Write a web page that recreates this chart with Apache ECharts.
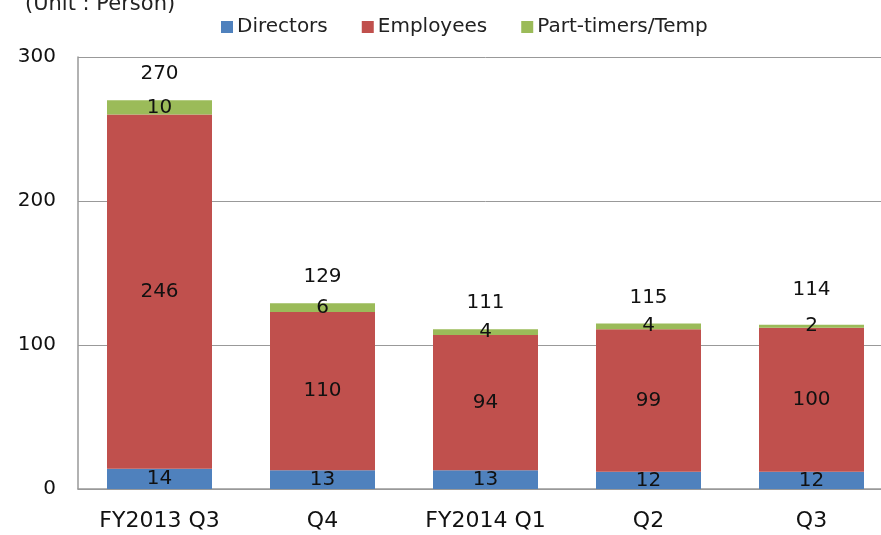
<!DOCTYPE html>
<html>
<head>
<meta charset="utf-8">
<script src="https://cdn.jsdelivr.net/npm/echarts@6/dist/echarts.min.js"></script>
<style>
  html, body { margin: 0; padding: 0; background: #fff; overflow: hidden; }
  #chart { width: 893px; height: 535px; }
</style>
</head>
<body>
<div id="chart"></div>
<script>
var categories = ['FY2013 Q3', 'Q4', 'FY2014 Q1', 'Q2', 'Q3']
var directors = [14, 13, 13, 12, 12]
var employees = [246, 110, 94, 99, 100]
var partTimers = [10, 6, 4, 4, 2]
var totals = [270, 129, 111, 115, 114]
var yTicks = [0, 100, 200, 300]

var font = 'DejaVu Sans'
var chart = echarts.init(document.getElementById('chart'))

var segLabel = {
  show: true,
  position: 'inside',
  color: '#111',
  fontSize: 20,
  fontFamily: font
}

chart.setOption({
  animation: false,
  textStyle: { fontFamily: font },
  title: {
    text: '(Unit : Person)',
    left: 20,
    top: -11,
    textStyle: { fontSize: 21, fontWeight: 'normal', color: '#222', fontFamily: font }
  },
  legend: {
    top: 12,
    left: 216,
    itemWidth: 12,
    itemHeight: 12,
    itemGap: 34,
    icon: 'rect',
    data: ['Directors', 'Employees', 'Part-timers/Temp'],
    textStyle: { fontSize: 20, color: '#222', fontFamily: font, padding: [0, 0, 0, -1] }
  },
  grid: { left: 78, right: 0, top: 57, bottom: 46, containLabel: false },
  xAxis: {
    type: 'category',
    data: categories,
    axisLine: { lineStyle: { color: '#999', width: 1.5 } },
    axisTick: { show: false },
    axisLabel: { fontSize: 22, color: '#111', margin: 21, fontFamily: font }
  },
  yAxis: {
    type: 'value',
    min: yTicks[0],
    max: yTicks[yTicks.length - 1],
    interval: 100,
    axisLine: { show: true, lineStyle: { color: '#999', width: 1.5 } },
    axisTick: { show: false },
    splitLine: { lineStyle: { color: '#999', width: 1 } },
    axisLabel: { fontSize: 20, color: '#111', margin: 22, fontFamily: font }
  },
  series: [
    {
      name: 'Directors',
      type: 'bar',
      stack: 'total',
      barWidth: 105,
      itemStyle: { color: '#4F81BD' },
      label: segLabel,
      data: directors
    },
    {
      name: 'Employees',
      type: 'bar',
      stack: 'total',
      itemStyle: { color: '#C0504D' },
      label: segLabel,
      data: employees
    },
    {
      name: 'Part-timers/Temp',
      type: 'bar',
      stack: 'total',
      itemStyle: { color: '#9BBB59' },
      label: segLabel,
      data: partTimers
    },
    {
      name: 'total',
      type: 'bar',
      stack: 'total',
      itemStyle: { color: 'transparent' },
      label: {
        show: true,
        position: 'top',
        distance: 16,
        color: '#111',
        fontSize: 20,
        fontFamily: font,
        formatter: function (p) { return totals[p.dataIndex] }
      },
      // last total sits a bit higher in the original
      data: totals.map(function (t, i) {
        return i === totals.length - 1 ? { value: 0, label: { distance: 25 } } : 0
      })
    }
  ]
})
</script>
</body>
</html>
